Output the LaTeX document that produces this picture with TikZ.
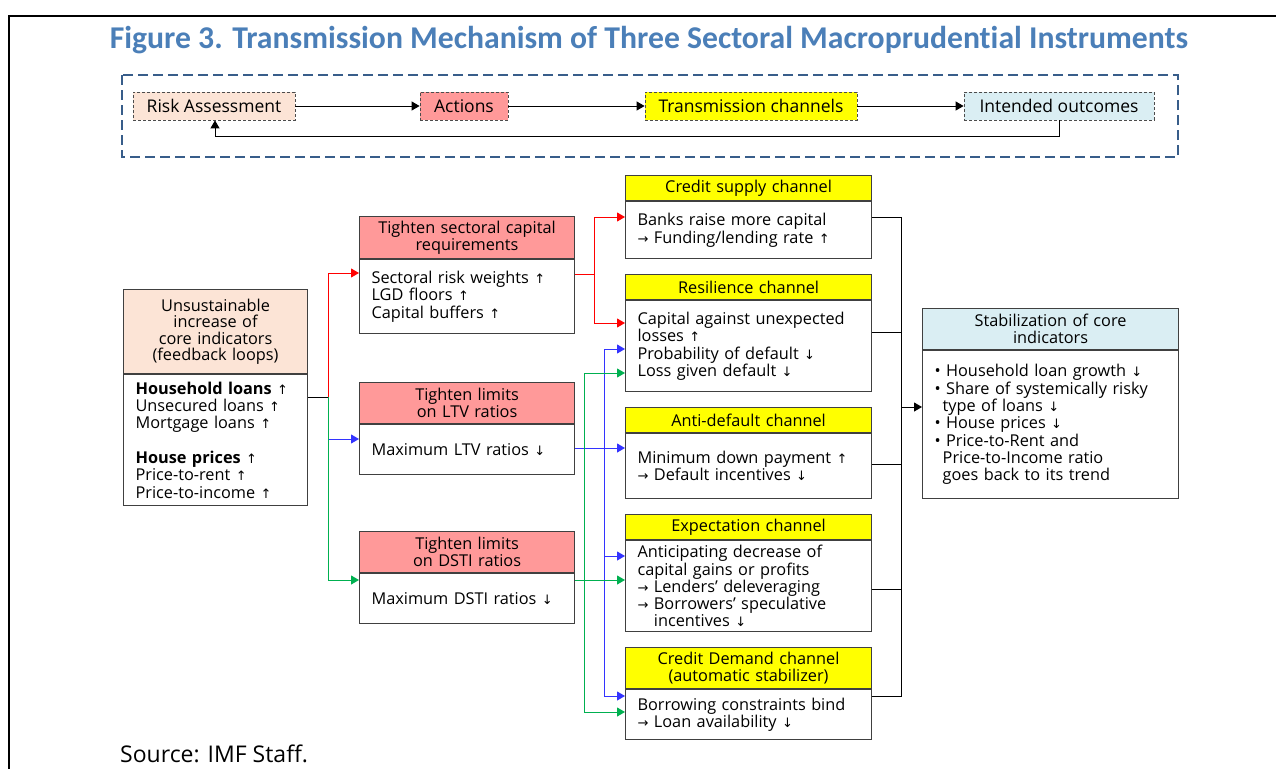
\documentclass[tikz,border=0pt]{standalone}
\usepackage{fontspec}
\setmainfont{Open Sans}
\newfontfamily\titlefont[Ligatures=NoCommon]{Carlito}
\newfontfamily\symfont{DejaVu Sans}
\usetikzlibrary{arrows.meta}
\definecolor{titleBlue}{RGB}{75,127,184}
\definecolor{frameBlue}{RGB}{56,93,138}
\definecolor{peachC}{RGB}{252,228,214}
\definecolor{pinkC}{RGB}{255,153,153}
\definecolor{yellowC}{RGB}{255,255,0}
\definecolor{lblueC}{RGB}{218,238,243}
\definecolor{redA}{RGB}{255,0,0}
\definecolor{bluA}{RGB}{51,51,255}
\definecolor{grnA}{RGB}{0,176,80}
\newcommand{\upa}{{\symfont\fontsize{13}{17}\selectfont ↑}}
\newcommand{\dna}{{\symfont\fontsize{13}{17}\selectfont ↓}}
\newcommand{\ria}{{\symfont\fontsize{13}{17}\selectfont →}}

\begin{document}
\begin{tikzpicture}[x=1pt, y=-1pt,
  hdr/.style={draw=black!75, line width=1.1pt, fill=#1, align=center, inner xsep=4pt, inner ysep=0pt, anchor=north west, font=\fontsize{16.3}{16.5}\selectfont},
  bdy/.style={draw=black!75, line width=1.1pt, fill=white, align=left, inner xsep=12pt, inner ysep=0pt, anchor=north, font=\fontsize{16.3}{17.3}\selectfont},
  topbox/.style={draw=black!70, line width=0.8pt, dash pattern=on 3pt off 2pt, fill=#1, minimum height=28pt, inner sep=0pt, font=\fontsize{17.5}{19}\selectfont},
  link/.style={line width=1pt, draw=#1},
  arr/.style={line width=1pt, draw=#1, -{Triangle[length=8pt,width=9pt]}}]
\useasboundingbox (0,0) rectangle (1276,769);
\draw[line width=2pt] (1276,15.5) -- (9,15.5) -- (9,769);
\node[anchor=base, text=titleBlue, font=\titlefont\bfseries\fontsize{31.7}{33}\selectfont] (title) at (649,48) {Figure 3. Transmission Mechanism of Three Sectoral Macroprudential Instruments};

\draw[draw=frameBlue, line width=2.6pt, dash pattern=on 10pt off 5pt] (122,75) rectangle (1178,157);
\node[topbox=peachC, minimum width=162pt] (risk) at (214,106) {Risk Assessment};
\node[topbox=pinkC, minimum width=88pt] (act) at (464,106) {Actions};
\node[topbox=yellowC, minimum width=212pt] (trans) at (751,106) {Transmission channels};
\node[topbox=lblueC, minimum width=190pt] (outc) at (1059,106) {Intended outcomes};
\draw[arr=black] (risk) -- (act);
\draw[arr=black] (act) -- (trans);
\draw[arr=black] (trans) -- (outc);
\coordinate (fb) at (215,136);
\draw[arr=black] (outc.south) |- (fb) -- (risk.south -| fb);

\node[hdr=peachC, text width=176pt, minimum height=84pt] (coreH) at (123,289) {Unsustainable\\increase of\\core indicators\\(feedback loops)};
\node[bdy, text width=160pt, minimum height=131pt] (coreB) at (coreH.south) {\textbf{Household loans} \upa\\Unsecured loans \upa\\Mortgage loans \upa\\[17.3pt]\textbf{House prices} \upa\\Price-to-rent \upa\\Price-to-income \upa};

\node[hdr=pinkC, text width=207pt, minimum height=42pt] (secH) at (359,216) {Tighten sectoral capital\\requirements};
\node[bdy, text width=191pt, minimum height=74pt] (secB) at (secH.south) {Sectoral risk weights \upa\\LGD floors \upa\\Capital buffers \upa};
\node[hdr=pinkC, text width=207pt, minimum height=41pt] (ltvH) at (359,382) {Tighten limits\\on LTV ratios};
\node[bdy, text width=191pt, minimum height=50pt] (ltvB) at (ltvH.south) {Maximum LTV ratios \dna};
\node[hdr=pinkC, text width=207pt, minimum height=41pt] (dstiH) at (359,531) {Tighten limits\\on DSTI ratios};
\node[bdy, text width=191pt, minimum height=50pt] (dstiB) at (dstiH.south) {Maximum DSTI ratios \dna};

\node[hdr=yellowC, text width=238pt, minimum height=25pt] (csH) at (625,175) {Credit supply channel};
\node[bdy, text width=222pt, minimum height=57pt] (csB) at (csH.south) {Banks raise more capital\\\ria{} Funding/lending rate \upa};
\node[hdr=yellowC, text width=238pt, minimum height=25pt] (resH) at (625,274) {Resilience channel};
\node[bdy, text width=222pt, minimum height=91pt] (resB) at (resH.south) {Capital against unexpected\\losses \upa\\Probability of default \dna\\Loss given default \dna};
\node[hdr=yellowC, text width=238pt, minimum height=25pt] (adH) at (625,407) {Anti-default channel};
\node[bdy, text width=222pt, minimum height=65pt] (adB) at (adH.south) {Minimum down payment \upa\\\ria{} Default incentives \dna};
\node[hdr=yellowC, text width=238pt, minimum height=25pt] (expH) at (625,514) {Expectation channel};
\node[bdy, text width=222pt, minimum height=91pt] (expB) at (expH.south) {Anticipating decrease of\\capital gains or profits\\\ria{} Lenders’ deleveraging\\\ria{} Borrowers’ speculative\\\phantom{\ria{} }incentives \dna};
\node[hdr=yellowC, text width=238pt, minimum height=41pt] (cdH) at (625,647) {Credit Demand channel\\(automatic stabilizer)};
\node[bdy, text width=222pt, minimum height=50pt] (cdB) at (cdH.south) {Borrowing constraints bind\\\ria{} Loan availability \dna};

\node[hdr=lblueC, text width=248pt, minimum height=41pt] (stabH) at (922,308) {Stabilization of core\\indicators};
\node[bdy, text width=232pt, minimum height=148pt] (stabB) at (stabH.south) {\textbullet\ Household loan growth \dna\\\textbullet\ Share of systemically risky\\\hspace*{0.5em}type of loans \dna\\\textbullet\ House prices \dna\\\textbullet\ Price-to-Rent and\\\hspace*{0.5em}Price-to-Income ratio\\\hspace*{0.5em}goes back to its trend};

\coordinate (jL) at (328,397);
\draw[link=black] (coreB.east |- jL) -- (jL);
\draw[arr=redA] (jL) |- (secB.west |- 0,273);
\draw[arr=bluA] (jL) |- (ltvB.west |- 0,439);
\draw[arr=grnA] (jL) |- (dstiB.west |- 0,580);

\coordinate (jR) at (594,274);
\draw[link=redA] (secB.east |- jR) -- (jR);
\draw[arr=redA] (jR) |- (csB.west |- 0,217);
\draw[arr=redA] (jR) |- (resB.west |- 0,323);

\coordinate (jB) at (604,448);
\draw[arr=bluA] (ltvB.east |- jB) -- (adB.west |- jB);
\draw[arr=bluA] (jB) |- (resB.west |- 0,349);
\draw[arr=bluA] (jB) |- (expB.west |- 0,556);
\draw[arr=bluA] (jB) |- (cdB.west |- 0,696);

\coordinate (jG) at (584,580);
\draw[arr=grnA] (dstiB.east |- jG) -- (expB.west |- jG);
\draw[arr=grnA] (jG) |- (resB.west |- 0,373);
\draw[arr=grnA] (jG) |- (cdB.west |- 0,712);

\coordinate (jO) at (901,407);
\draw[link=black] (csB.east |- 0,217) -| (jO);
\draw[link=black] (resB.east |- 0,332) -| (jO);
\draw[link=black] (adB.east |- 0,464) -| (jO);
\draw[link=black] (expB.east |- 0,589) -| (jO);
\draw[link=black] (cdB.east |- 0,696) -| (jO);
\draw[arr=black] (jO) -- (stabB.west |- jO);

\node[anchor=base west, inner sep=0pt, font=\fontsize{23}{25}\selectfont] (src) at (120,762) {Source: IMF Staff.};
\end{tikzpicture}
\end{document}
